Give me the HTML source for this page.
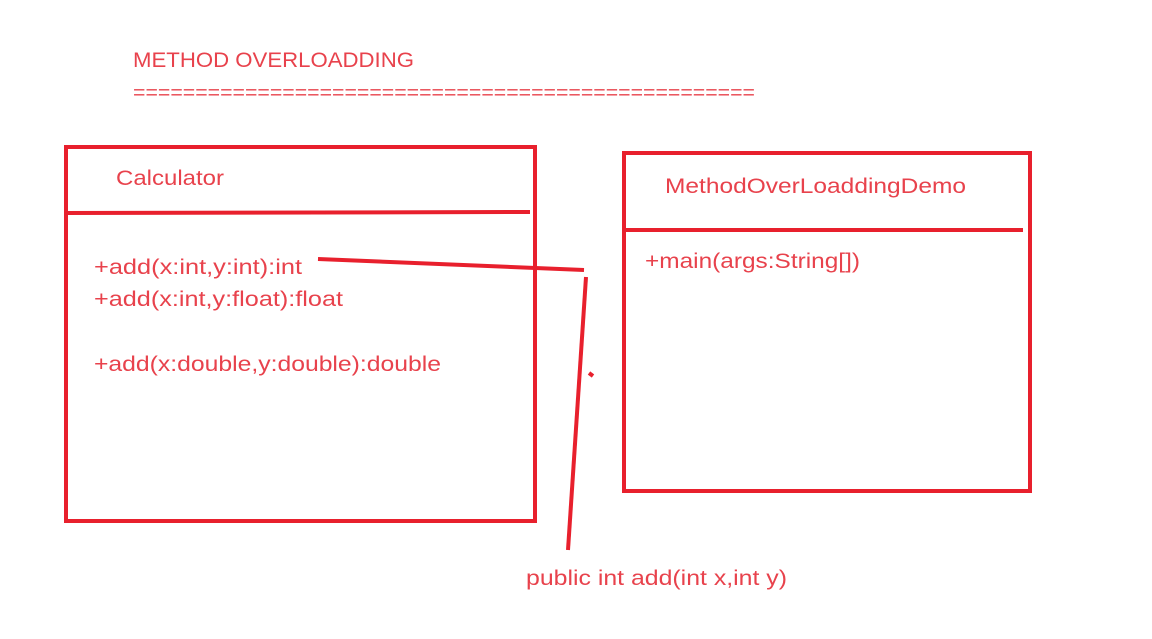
<!DOCTYPE html>
<html><head><meta charset="utf-8"><style>
html,body{margin:0;padding:0;background:#fff;}
svg{display:block;}
text{font-family:"Liberation Sans",sans-serif;fill:#e8424c;}
</style></head><body>
<svg width="1152" height="639" viewBox="0 0 1152 639" xmlns="http://www.w3.org/2000/svg">
<rect width="1152" height="639" fill="#fff"/>
<text x="133" y="67" font-size="21" textLength="281" lengthAdjust="spacingAndGlyphs">METHOD OVERLOADDING</text>
<text x="133" y="99" font-size="19" textLength="622" lengthAdjust="spacingAndGlyphs">==================================================</text>
<g stroke="#e8202d" stroke-width="4" fill="none">
<rect x="66" y="147" width="469" height="374"/>
<path d="M66 213 L530 212"/>
<rect x="624" y="153" width="406" height="338"/>
<path d="M624 230 L1023 230"/>
<path d="M318 259 L584 270"/>
<path d="M586 277 L568 550"/>
<path d="M589 373 L593 376"/>
</g>
<text x="116" y="185" font-size="21" textLength="108" lengthAdjust="spacingAndGlyphs">Calculator</text>
<text x="94" y="274" font-size="21" textLength="208" lengthAdjust="spacingAndGlyphs">+add(x:int,y:int):int</text>
<text x="94" y="306" font-size="21" textLength="249" lengthAdjust="spacingAndGlyphs">+add(x:int,y:float):float</text>
<text x="94" y="371" font-size="21" textLength="347" lengthAdjust="spacingAndGlyphs">+add(x:double,y:double):double</text>
<text x="665" y="193" font-size="21" textLength="301" lengthAdjust="spacingAndGlyphs">MethodOverLoaddingDemo</text>
<text x="645" y="268" font-size="21" textLength="215" lengthAdjust="spacingAndGlyphs">+main(args:String[])</text>
<text x="526" y="585" font-size="21" textLength="261" lengthAdjust="spacingAndGlyphs">public int add(int x,int y)</text>
</svg>
</body></html>
